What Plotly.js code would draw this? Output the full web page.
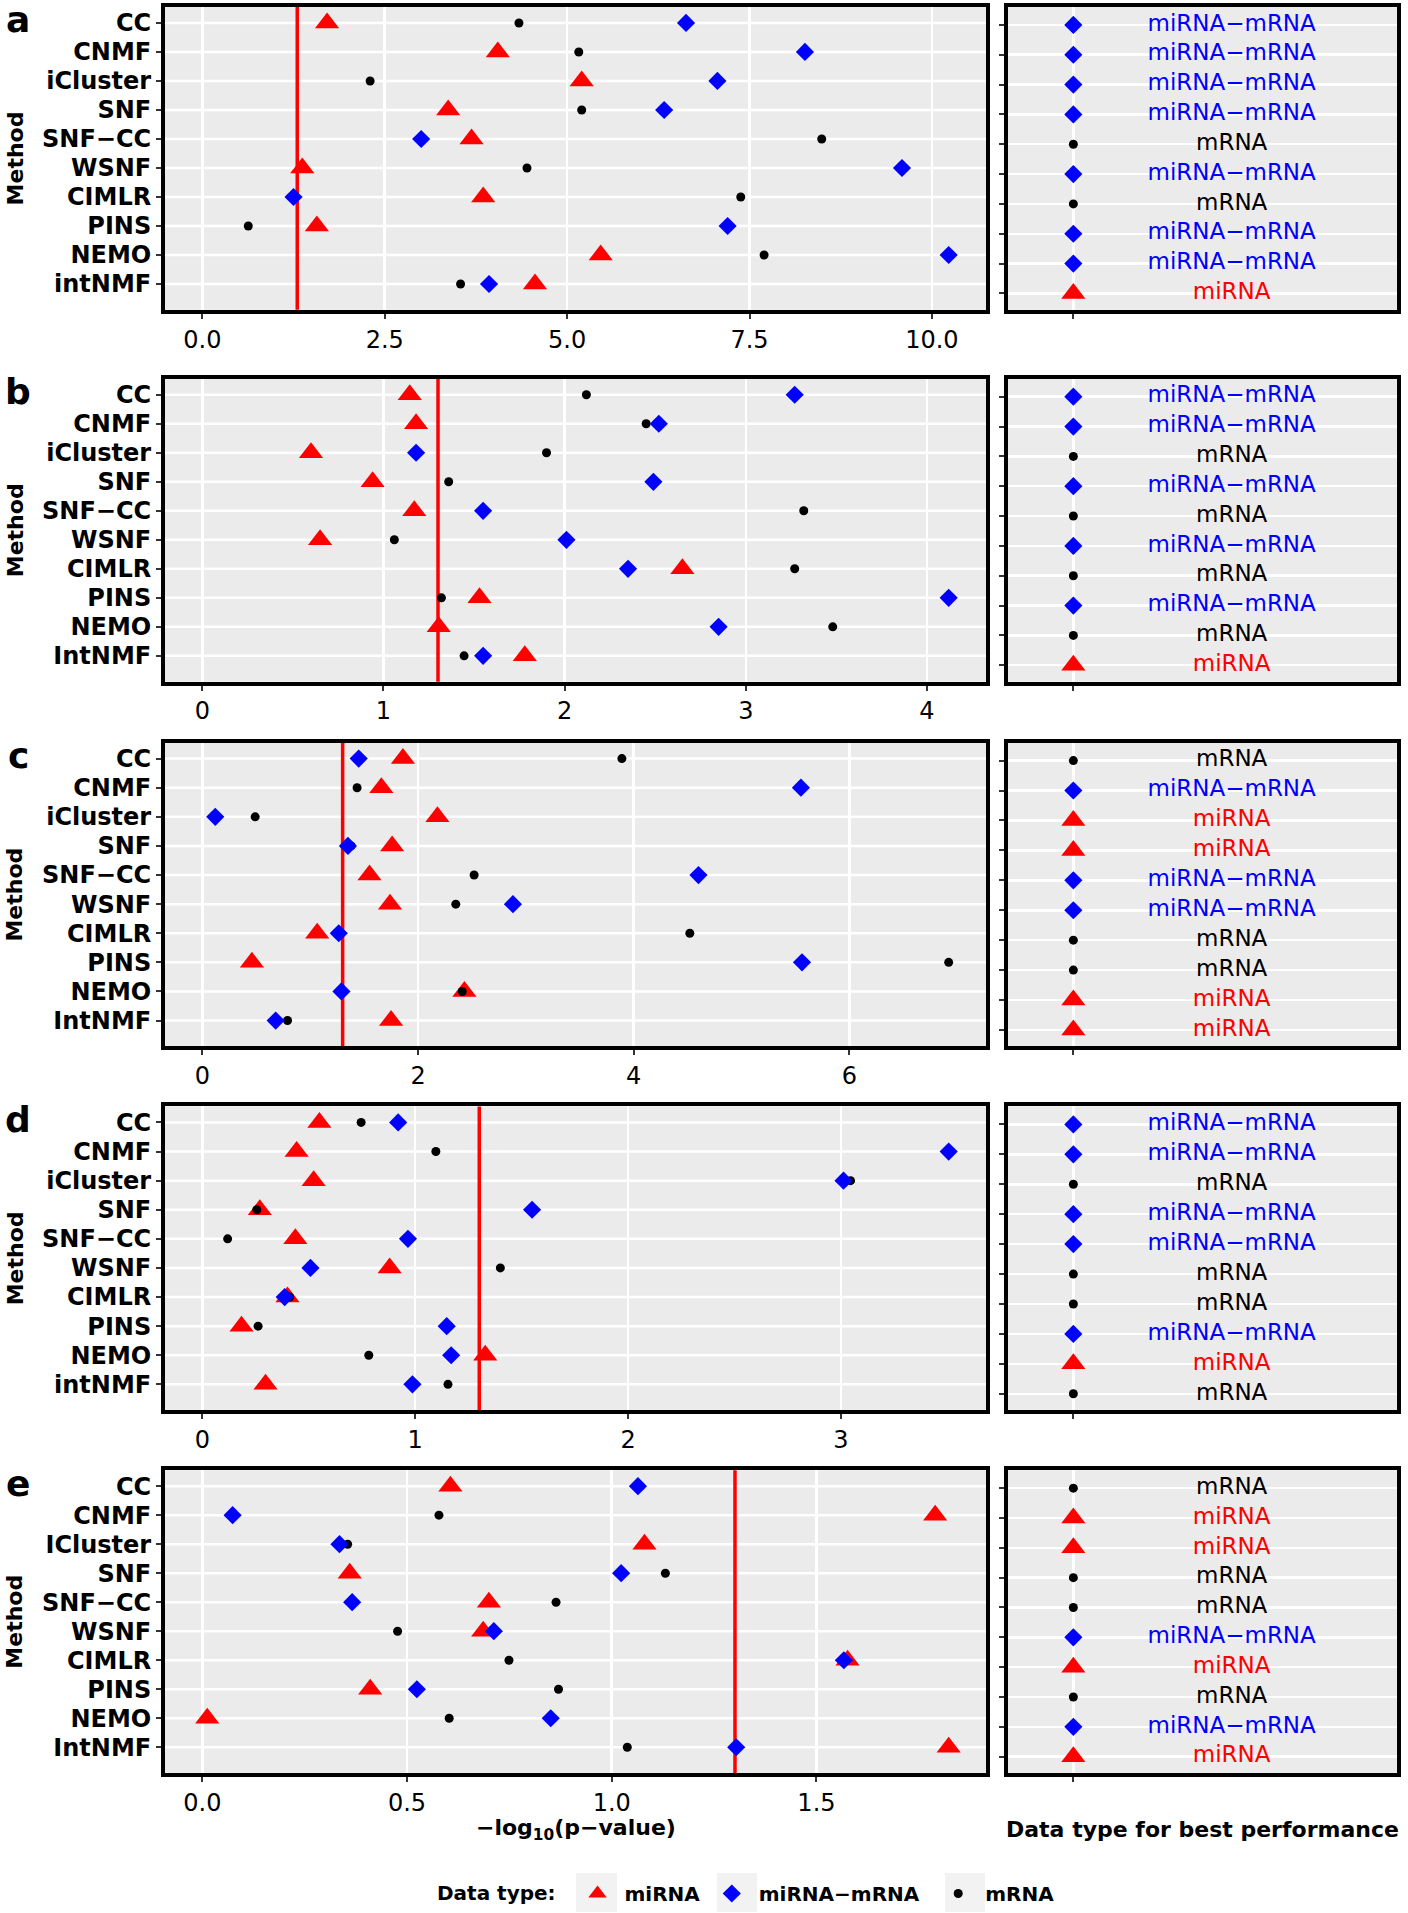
<!DOCTYPE html>
<html>
<head>
<meta charset="utf-8">
<script src="https://cdn.plot.ly/plotly-3.0.1.min.js"></script>
<style>
html,body{margin:0;padding:0;background:#fff;}
#chart{width:1408px;height:1913px;}
</style>
</head>
<body>
<div id="chart"></div>
<script>
// ---------- DATA ----------
const dataTypes = ["miRNA", "miRNA\u2212mRNA", "mRNA"];

const methodsA = ["CC","CNMF","iCluster","SNF","SNF\u2212CC","WSNF","CIMLR","PINS","NEMO","intNMF"];
const methodsB = ["CC","CNMF","iCluster","SNF","SNF\u2212CC","WSNF","CIMLR","PINS","NEMO","IntNMF"];
const methodsC = ["CC","CNMF","iCluster","SNF","SNF\u2212CC","WSNF","CIMLR","PINS","NEMO","IntNMF"];
const methodsD = ["CC","CNMF","iCluster","SNF","SNF\u2212CC","WSNF","CIMLR","PINS","NEMO","intNMF"];
const methodsE = ["CC","CNMF","ICluster","SNF","SNF\u2212CC","WSNF","CIMLR","PINS","NEMO","IntNMF"];

// -log10(p-value) per method
const miRNA_a = [1.71, 4.05, 5.20, 3.37, 3.69, 1.37, 3.85, 1.57, 5.46, 4.56];
const mix_a   = [6.63, 8.26, 7.06, 6.33, 3.00, 9.59, 1.25, 7.20, 10.23, 3.93];
const mRNA_a  = [4.34, 5.16, 2.30, 5.20, 8.49, 4.45, 7.38, 0.63, 7.70, 3.54];

const miRNA_b = [1.145, 1.18, 0.60, 0.94, 1.17, 0.65, 2.65, 1.53, 1.305, 1.78];
const mix_b   = [3.27, 2.52, 1.18, 2.49, 1.55, 2.01, 2.35, 4.12, 2.85, 1.55];
const mRNA_b  = [2.12, 2.45, 1.90, 1.36, 3.32, 1.06, 3.27, 1.32, 3.48, 1.445];

const miRNA_c = [1.86, 1.66, 2.18, 1.76, 1.55, 1.74, 1.065, 0.46, 2.43, 1.75];
const mix_c   = [1.45, 5.55, 0.12, 1.35, 4.60, 2.88, 1.265, 5.56, 1.29, 0.68];
const mRNA_c  = [3.89, 1.435, 0.49, 1.38, 2.52, 2.35, 4.52, 6.92, 2.41, 0.79];

const miRNA_d = [0.55, 0.443, 0.523, 0.27, 0.437, 0.88, 0.40, 0.184, 1.329, 0.297];
const mix_d   = [0.92, 3.506, 3.012, 1.549, 0.966, 0.508, 0.387, 1.148, 1.169, 0.987];
const mRNA_d  = [0.746, 1.097, 3.045, 0.256, 0.119, 1.40, 0.41, 0.262, 0.782, 1.154];

const miRNA_e = [0.606, 1.79, 1.08, 0.36, 0.70, 0.686, 1.576, 0.41, 0.012, 1.823];
const mix_e   = [1.064, 0.074, 0.335, 1.023, 0.366, 0.712, 1.567, 0.524, 0.851, 1.304];
const mRNA_e  = [1.07, 0.578, 0.355, 1.131, 0.864, 0.477, 0.749, 0.87, 0.603, 1.038];

const panelLetters = ["a","b","c","d","e"];
const threshold = -Math.log10(0.05);

// ---------- STYLE / LAYOUT ----------
const W = 1408, H = 1913;
const FONT = "DejaVu Sans";
const colors = {"miRNA":"#FF0000", "miRNA\u2212mRNA":"#0000FF", "mRNA":"#000000"};
const symbols = {"miRNA":"triangle-up", "miRNA\u2212mRNA":"diamond", "mRNA":"circle"};
const sizes = {"miRNA":21, "miRNA\u2212mRNA":14, "mRNA":9};
const NB = "\u00a0";
const legendNames = {"miRNA": NB + "miRNA" + NB, "miRNA\u2212mRNA": NB + "miRNA\u2212mRNA" + NB + NB, "mRNA": NB + "mRNA"};

const panels = [
  {methods: methodsA, vals: [miRNA_a, mix_a, mRNA_a], top: 7,    bottom: 310,  ticks: [0,2.5,5,7.5,10], fmt: ".1f"},
  {methods: methodsB, vals: [miRNA_b, mix_b, mRNA_b], top: 379,  bottom: 682,  ticks: [0,1,2,3,4],      fmt: "d"},
  {methods: methodsC, vals: [miRNA_c, mix_c, mRNA_c], top: 743,  bottom: 1047, ticks: [0,2,4,6],        fmt: "d"},
  {methods: methodsD, vals: [miRNA_d, mix_d, mRNA_d], top: 1107, bottom: 1411, ticks: [0,1,2,3],        fmt: "d"},
  {methods: methodsE, vals: [miRNA_e, mix_e, mRNA_e], top: 1471, bottom: 1774, ticks: [0,0.5,1,1.5],    fmt: ".1f"}
];

const mainX = [165/W, 986/W];
const legX = [1008/W, 1397/W];
const legMarkX = 0.168, legTextX = 0.575;

const traces = [];
const layout = {
  width: W, height: H,
  margin: {l:0, r:0, t:0, b:0},
  paper_bgcolor: "#FFFFFF",
  plot_bgcolor: "#EBEBEB",
  font: {family: FONT, color: "#000"},
  showlegend: true,
  legend: {
    orientation: "h",
    x: 435/W, xanchor: "left",
    y: 1 - 1894/H, yanchor: "middle",
    title: {text: "Data type:" + NB + NB, side: "left", font: {family: FONT, size: 20, weight: "bold", color: "#000"}},
    font: {family: FONT, size: 20, weight: "bold", color: "#000"},
    bgcolor: "rgba(0,0,0,0)",
    itemclick: false, itemdoubleclick: false
  },
  shapes: [],
  annotations: []
};

// light grey key boxes behind the bottom legend symbols
[[576, 617], [717, 757], [945, 985]].forEach(b => {
  layout.shapes.push({
    type: "rect", xref: "paper", yref: "paper",
    x0: b[0]/W, x1: b[1]/W, y0: 1 - 1913/H, y1: 1 - 1874/H,
    fillcolor: "#F2F2F2", line: {width: 0}, layer: "below"
  });
});

// draw order: triangle (bottom), dot, diamond (top)
const drawOrder = [0, 2, 1];

panels.forEach((p, i) => {
  const n = i + 1;
  const xa = "x" + (n === 1 ? "" : n), ya = "y" + (n === 1 ? "" : n);
  const ln = i + 6;
  const lxa = "x" + ln, lya = "y" + ln;
  const dom = [1 - p.bottom/H, 1 - p.top/H];

  const allVals = [].concat(p.vals[0], p.vals[1], p.vals[2]);
  const mx = Math.max.apply(null, allVals.concat([threshold]));
  const xr = [-0.05*mx, 1.05*mx];

  drawOrder.forEach(k => {
    const t = dataTypes[k];
    traces.push({
      type: "scatter", mode: "markers",
      x: p.vals[k], y: p.methods,
      xaxis: xa, yaxis: ya,
      name: legendNames[t], legendgroup: t, legendrank: k + 1,
      showlegend: i === 0,
      marker: {symbol: symbols[t], color: colors[t], size: sizes[t], opacity: 1, line: {width: 0}},
      cliponaxis: false,
      hoverinfo: "x+y"
    });
  });

  // best-performing data type per method
  const best = p.methods.map((m, j) => {
    let bk = 0;
    for (let k = 1; k < 3; k++) if (p.vals[k][j] > p.vals[bk][j]) bk = k;
    return dataTypes[bk];
  });
  traces.push({
    type: "scatter", mode: "markers",
    x: best.map(() => legMarkX), y: p.methods,
    xaxis: lxa, yaxis: lya, showlegend: false,
    marker: {symbol: best.map(b => symbols[b]), color: best.map(b => colors[b]), size: best.map(b => sizes[b]), opacity: 1, line: {width: 0}},
    hoverinfo: "skip"
  });
  traces.push({
    type: "scatter", mode: "text",
    x: best.map(() => legTextX), y: p.methods,
    text: best, textposition: "middle center",
    textfont: {family: FONT, size: 23, color: best.map(b => colors[b])},
    xaxis: lxa, yaxis: lya, showlegend: false, hoverinfo: "skip"
  });

  const axLine = {showline: true, linecolor: "#000", linewidth: 4, mirror: true};
  layout["xaxis" + (n === 1 ? "" : n)] = Object.assign({
    domain: mainX, anchor: ya, range: xr,
    tickvals: p.ticks, tickformat: p.fmt,
    ticks: "outside", ticklen: 5, tickwidth: 2, tickcolor: "#333",
    tickfont: {family: FONT, size: 24, color: "#000"},
    showgrid: true, gridcolor: "#FFFFFF", gridwidth: 2.5, zeroline: false
  }, axLine);
  layout["yaxis" + (n === 1 ? "" : n)] = Object.assign({
    domain: dom, anchor: xa, type: "category",
    categoryorder: "array", categoryarray: p.methods,
    range: [9.89, -0.55],
    ticks: "outside", ticklen: 5, tickwidth: 2, tickcolor: "#333",
    tickfont: {family: FONT, size: 24, weight: "bold", color: "#000"},
    showgrid: false, zeroline: false
  }, axLine);
  layout["xaxis" + ln] = Object.assign({
    domain: legX, anchor: lya, range: [0, 1],
    tickvals: [legMarkX], showticklabels: false,
    ticks: "outside", ticklen: 5, tickwidth: 2, tickcolor: "#333",
    showgrid: true, gridcolor: "#FFFFFF", gridwidth: 2.5, zeroline: false
  }, axLine);
  layout["yaxis" + ln] = Object.assign({
    domain: dom, anchor: lxa, type: "category",
    categoryorder: "array", categoryarray: p.methods,
    range: [9.55, -0.6], showticklabels: false,
    ticks: "outside", ticklen: 5, tickwidth: 2, tickcolor: "#333",
    showgrid: true, gridcolor: "#FFFFFF", gridwidth: 2.5, zeroline: false
  }, axLine);

  // horizontal white grid lines at each method (as shapes, so the threshold line sits on top)
  p.methods.forEach(m => {
    layout.shapes.push({
      type: "line", xref: xa + " domain", yref: ya,
      x0: 0, x1: 1, y0: m, y1: m,
      line: {color: "#FFFFFF", width: 2.5}, layer: "below"
    });
  });
  // p = 0.05 threshold line
  layout.shapes.push({
    type: "line", xref: xa, yref: ya + " domain",
    x0: threshold, x1: threshold, y0: 0, y1: 1,
    line: {color: "#FF0000", width: 3.5}, layer: "below"
  });

  // panel letter
  layout.annotations.push({
    text: panelLetters[i], xref: "paper", yref: "paper",
    x: 18/W, y: 1 - (p.top + 13)/H, xanchor: "center", yanchor: "middle",
    showarrow: false, font: {family: FONT, size: 36, weight: "bold", color: "#000"}
  });
  // y-axis title
  layout.annotations.push({
    text: "Method", xref: "paper", yref: "paper",
    x: 15/W, y: 1 - (p.top + p.bottom)/2/H, xanchor: "center", yanchor: "middle",
    textangle: -90, showarrow: false,
    font: {family: FONT, size: 22, weight: "bold", color: "#000"}
  });
});

// x-axis titles under bottom row
layout.annotations.push({
  text: "\u2212log<sub>10</sub>(p\u2212value)", xref: "paper", yref: "paper",
  x: (mainX[0] + mainX[1])/2, y: 1 - 1830/H, xanchor: "center", yanchor: "middle",
  showarrow: false, font: {family: FONT, size: 22, weight: "bold", color: "#000"}
});
layout.annotations.push({
  text: "Data type for best performance", xref: "paper", yref: "paper",
  x: 1202/W, y: 1 - 1830/H, xanchor: "center", yanchor: "middle",
  showarrow: false, font: {family: FONT, size: 22, weight: "bold", color: "#000"}
});

Plotly.newPlot("chart", traces, layout, {displayModeBar: false, staticPlot: true});
</script>
</body>
</html>
